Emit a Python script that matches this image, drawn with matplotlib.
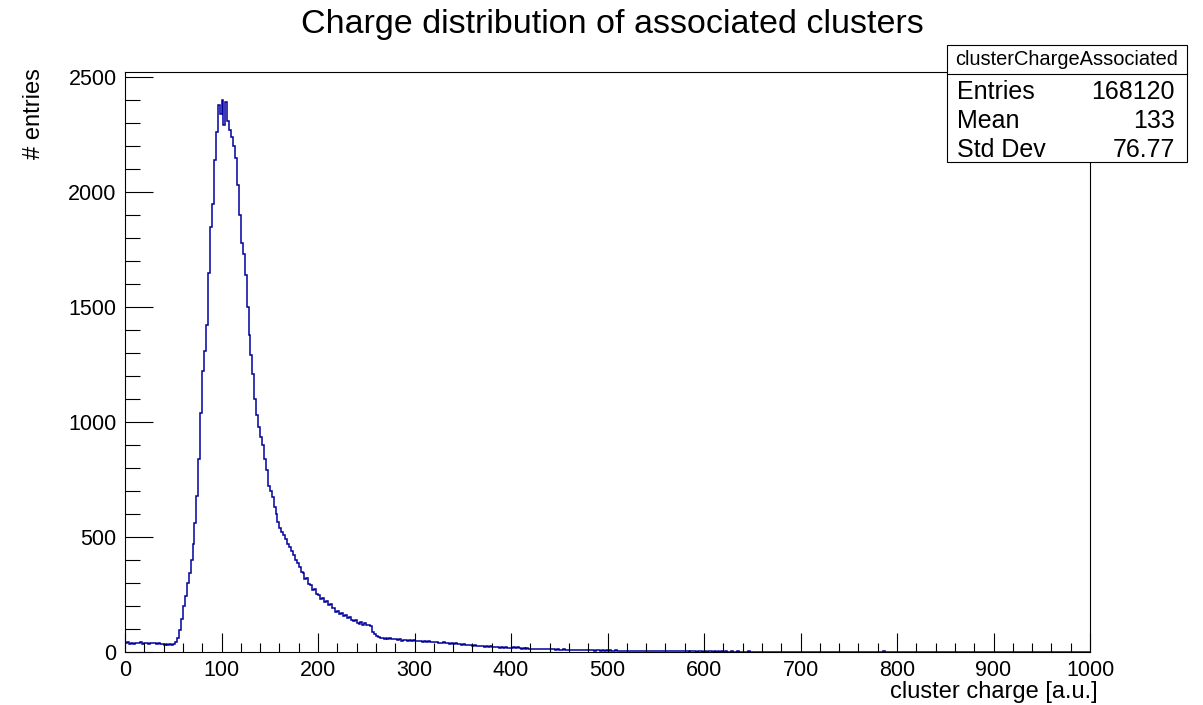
"""Charge distribution of associated clusters - ROOT-style histogram redraw"""
import numpy as np
import matplotlib
matplotlib.use("Agg")
import matplotlib.pyplot as plt
from matplotlib.patches import Rectangle
import matplotlib.ticker as mticker

plt.rcParams["font.family"] = ["Liberation Sans", "DejaVu Sans"]

# histogram: 500 bins of width 2 between 0 and 1000 (heights)
bin_lo, bin_hi, bin_w = 0, 1000, 2

counts_rise = [  # 0 - 100
    38, 42, 36, 40, 35, 41, 39, 37, 43, 36,
    40, 38, 34, 41, 37, 39, 33, 38, 36, 35,
    32, 34, 30, 33, 31, 36, 44, 60, 95, 145,
    200, 245, 300, 345, 400, 470, 560, 680, 840, 1040,
    1220, 1310, 1420, 1650, 1850, 1950, 2140, 2260, 2380, 2340,
]
counts_fall = [  # 100 - 300
    2400, 2290, 2390, 2310, 2270, 2240, 2200, 2150, 2030, 1900,
    1780, 1730, 1640, 1500, 1380, 1290, 1210, 1100, 1030, 980,
    935, 900, 840, 790, 720, 700, 675, 630, 600, 565,
    540, 520, 510, 490, 470, 455, 440, 420, 400, 385,
    370, 350, 345, 318, 322, 295, 290, 270, 275, 252,
    248, 232, 236, 218, 220, 205, 208, 190, 192, 176,
    180, 165, 170, 155, 160, 148, 152, 140, 135, 138,
    128, 122, 130, 118, 124, 116, 119, 112, 88, 80,
    70, 65, 62, 60, 58, 63, 57, 60, 55, 58,
    55, 52, 57, 50, 54, 51, 48, 53, 50, 52,
]
counts_tail = [  # 300 - 500
    48, 50, 46, 49, 45, 47, 44, 46, 43, 45,
    42, 44, 40, 41, 38, 42, 37, 39, 36, 38,
    35, 37, 33, 34, 31, 33, 30, 32, 29, 30,
    28, 29, 26, 27, 25, 27, 23, 25, 22, 24,
    22, 23, 20, 21, 19, 21, 18, 20, 17, 19,
    18, 20, 16, 22, 17, 15, 18, 14, 16, 15,
    14, 15, 13, 14, 12, 13, 14, 11, 12, 13,
    12, 11, 13, 10, 11, 10, 9, 11, 10, 9,
    9, 10, 8, 9, 10, 8, 9, 7, 8, 9,
    8, 7, 8, 6, 7, 8, 6, 7, 6, 7,
]
counts_far = [  # 500 - 1000
    6, 7, 5, 6, 7, 5, 6, 4, 6, 5, 5, 6, 4, 5, 6, 4, 5, 5, 4, 6, 4, 5, 4, 3, 5,
    4, 5, 3, 4, 4, 3, 4, 5, 3, 4, 3, 4, 3, 3, 4, 3, 4, 2, 3, 4, 3, 2, 3, 3, 2,
    3, 2, 3, 4, 2, 3, 2, 3, 2, 3, 2, 3, 2, 2, 3, 1, 2, 3, 2, 2, 2, 1, 2, 3, 2,
    1, 2, 2, 1, 2, 2, 1, 1, 2, 2, 1, 2, 1, 2, 1, 1, 2, 1, 1, 2, 1, 1, 2, 1, 1,
    1, 1, 2, 1, 0, 1, 1, 2, 1, 1, 1, 0, 1, 1, 2, 1, 1, 0, 1, 1, 1, 1, 0, 1, 2,
    1, 0, 1, 1, 0, 1, 1, 0, 1, 1, 0, 1, 1, 0, 1, 1, 0, 1, 3, 1, 0, 1, 1, 0, 1,
    1, 0, 1, 1, 0, 1, 0, 1, 1, 0, 1, 0, 1, 0, 1, 1, 0, 1, 0, 1, 0, 1, 0, 1, 1,
    0, 0, 1, 0, 1, 1, 0, 1, 0, 0, 1, 0, 1, 0, 1, 0, 1, 0, 0, 1, 0, 1, 0, 0, 1,
    0, 1, 0, 1, 0, 0, 1, 0, 1, 0, 0, 1, 0, 0, 1, 0, 1, 0, 0, 1, 0, 0, 1, 0, 1,
    0, 0, 1, 0, 0, 1, 0, 0, 1, 0, 0, 1, 0, 0, 1, 0, 0, 1, 0, 0, 1, 0, 0, 1, 0,
]

stats_name = "clusterChargeAssociated"
stats_rows = [("Entries", "168120"), ("Mean", "133"), ("Std Dev", "76.77")]

counts = np.array(counts_rise + counts_fall + counts_tail + counts_far, dtype=float)
edges = np.arange(bin_lo, bin_hi + bin_w, bin_w)

W, H = 1203, 705
fig = plt.figure(figsize=(W / 100, H / 100), dpi=100)
ax = fig.add_axes([125 / W, 1 - 652 / H, (1090 - 125) / W, (652 - 72) / H])

ax.stairs(counts, edges, color="#00009c", linewidth=1.1)
ax.set_xlim(0, 1000)
ax.set_ylim(0, 2522)

ax.xaxis.set_major_locator(mticker.MultipleLocator(100))
ax.xaxis.set_minor_locator(mticker.MultipleLocator(20))
ax.yaxis.set_major_locator(mticker.MultipleLocator(500))
ax.yaxis.set_minor_locator(mticker.MultipleLocator(100))
ax.tick_params(which="both", direction="in", top=False, right=False,
               labelsize=15.5, width=0.8, color="black")
ax.tick_params(axis="y", which="major", length=20, pad=6)
ax.tick_params(axis="y", which="minor", length=10.5)
ax.tick_params(axis="x", which="major", length=13.5, pad=6)
ax.tick_params(axis="x", which="minor", length=6.5)
for s in ax.spines.values():
    s.set_linewidth(0.8)

# titles
fig.text(612 / W, 1 - 33 / H, "Charge distribution of associated clusters",
         ha="center", va="baseline", fontsize=24.5)
fig.text(34 / W, 1 - 68 / H, "# entries", rotation=90, ha="center", va="top", fontsize=17)
fig.text(1098 / W, 1 - 698 / H, "cluster charge [a.u.]", ha="right", va="baseline", fontsize=17)

# stats box
bx0, bx1, by_top, by_bot, by_sep = 947, 1187, 45, 162, 74
box = Rectangle((bx0 / W, 1 - by_bot / H), (bx1 - bx0) / W, (by_bot - by_top) / H,
                transform=fig.transFigure, facecolor="white", edgecolor="black",
                linewidth=0.8, zorder=5)
fig.add_artist(box)
fig.add_artist(plt.Line2D([bx0 / W, bx1 / W], [1 - by_sep / H, 1 - by_sep / H],
                          transform=fig.transFigure, color="black", linewidth=0.8, zorder=6))
fig.text((bx0 + bx1) / 2 / W, 1 - 59.5 / H, stats_name, ha="center", va="center",
         fontsize=14.4, zorder=7)
for (lab, val), yb in zip(stats_rows, [99, 128, 157]):
    fig.text(957 / W, 1 - yb / H, lab, ha="left", va="baseline", fontsize=18, zorder=7)
    fig.text(1175 / W, 1 - yb / H, val, ha="right", va="baseline", fontsize=18, zorder=7)

fig.savefig("out.png", dpi=100)
plt.close(fig)
